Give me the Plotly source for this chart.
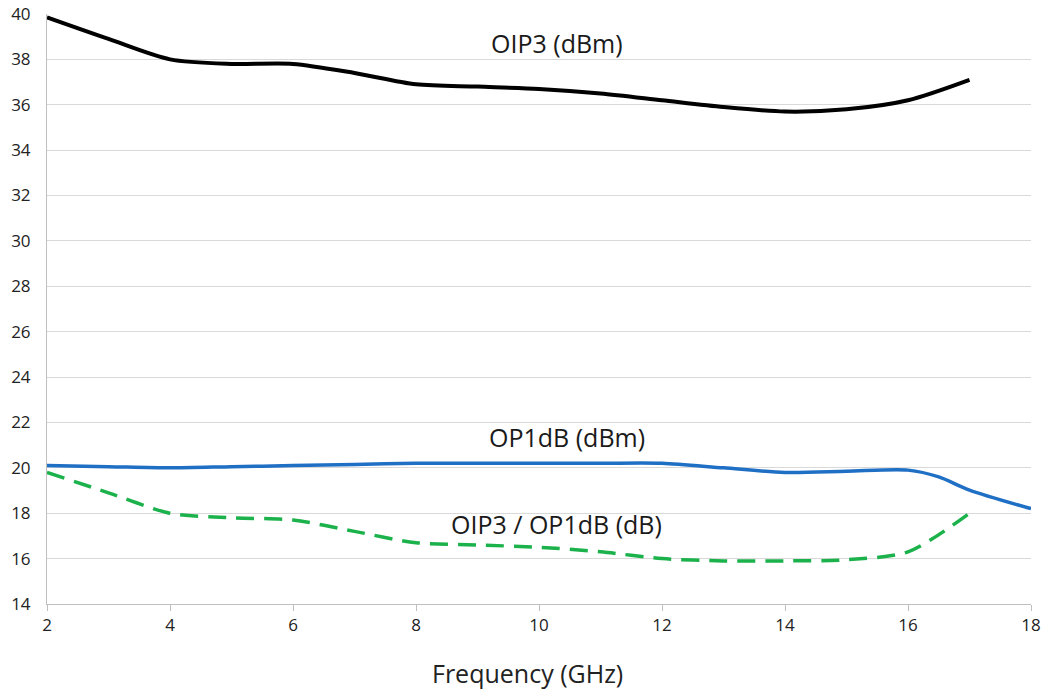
import plotly.graph_objects as go

freq = [2, 3, 4, 5, 6, 7, 8, 9, 10, 11, 12, 13, 14, 15, 16, 17]
oip3 = [39.85, 38.9, 38.0, 37.8, 37.8, 37.4, 36.9, 36.8, 36.7, 36.5, 36.2, 35.9, 35.7, 35.8, 36.2, 37.1]

freq_p1 = [2, 3, 4, 5, 6, 7, 8, 9, 10, 11, 12, 13, 14, 15, 16, 16.5, 17, 18]
op1db = [20.1, 20.05, 20.0, 20.05, 20.1, 20.15, 20.2, 20.2, 20.2, 20.2, 20.2, 20.0, 19.8, 19.85, 19.9, 19.6, 19.02, 18.2]

ratio = [19.8, 18.9, 18.0, 17.8, 17.7, 17.2, 16.7, 16.6, 16.5, 16.3, 16.0, 15.9, 15.9, 15.95, 16.3, 18.0]

labels = ["OIP3 (dBm)", "OP1dB (dBm)", "OIP3 / OP1dB (dB)"]
label_x = [10.29, 10.45, 10.29]
label_y = [38.72, 21.36, 17.52]

x_title = "Frequency (GHz)"

font_family = "Open Sans, Noto Sans, sans-serif"

fig = go.Figure()
fig.add_trace(go.Scatter(x=freq, y=oip3, mode="lines", hoverinfo="skip",
                         line=dict(color="#000000", width=4, shape="spline", smoothing=0.8)))
fig.add_trace(go.Scatter(x=freq_p1, y=op1db, mode="lines", hoverinfo="skip",
                         line=dict(color="#1f6fc5", width=3.5, shape="spline", smoothing=0.8)))
fig.add_trace(go.Scatter(x=freq, y=ratio, mode="lines", hoverinfo="skip",
                         line=dict(color="#1bb14b", width=3.5, dash="18px,10px", shape="spline", smoothing=0.8)))

for t, x, y in zip(labels, label_x, label_y):
    fig.add_annotation(x=x, y=y, text=t, showarrow=False,
                       font=dict(size=25, color="#1a1a1a", family=font_family))

fig.add_annotation(x=0.488, y=-0.117, xref="paper", yref="paper", text=x_title,
                   showarrow=False, xanchor="center", yanchor="middle",
                   font=dict(size=25, color="#222222", family=font_family))

fig.update_layout(
    width=1044, height=691,
    margin=dict(l=47, r=13, t=14, b=87),
    plot_bgcolor="white", paper_bgcolor="white",
    showlegend=False,
    font=dict(family=font_family, color="#222222"),
)
fig.update_xaxes(range=[2, 18], tickvals=list(range(2, 19, 2)), showgrid=False,
                 showline=True, linecolor="#bfbfbf", linewidth=1,
                 ticks="outside", tickcolor="#bfbfbf", ticklen=6,
                 tickfont=dict(size=17), zeroline=False, automargin=False,
                 ticklabeloverflow="allow")
fig.update_yaxes(range=[14, 40], tickvals=list(range(14, 41, 2)), showgrid=True,
                 gridcolor="#d9d9d9", gridwidth=1,
                 showline=True, linecolor="#bfbfbf", linewidth=1,
                 ticks="", tickfont=dict(size=17), zeroline=False, automargin=False,
                 ticklabelstandoff=12, ticklabeloverflow="allow")

# remove the browser's default 8px body margin so the figure sits at the page origin
fig.write_html("out.html", config={"displayModeBar": False},
               post_script="document.body.style.margin='0';document.body.style.overflow='hidden';")
